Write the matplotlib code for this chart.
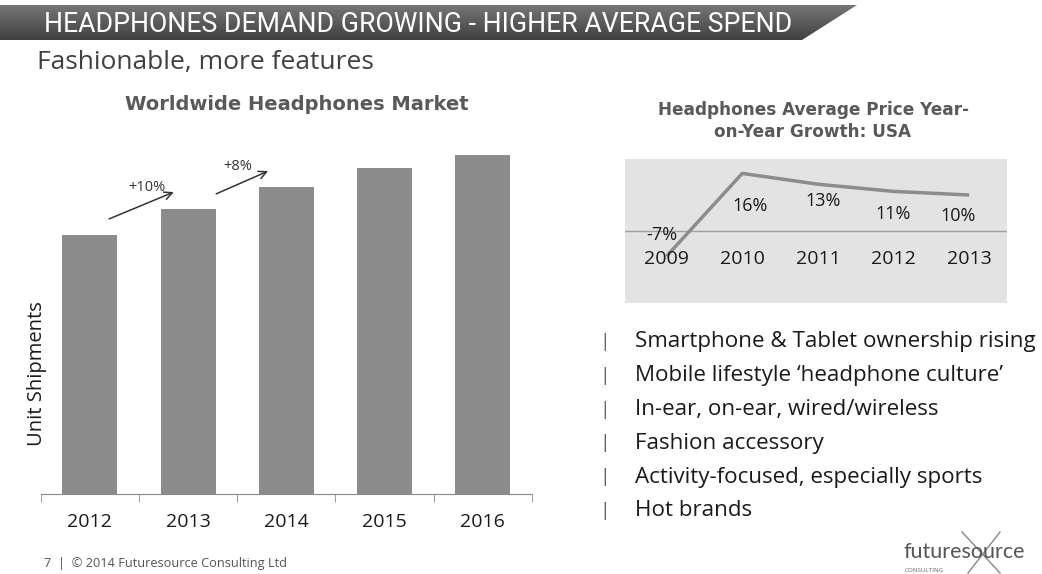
import numpy as np
import matplotlib
matplotlib.use("Agg")
import matplotlib.pyplot as plt
from matplotlib.patches import Polygon

# ---- data ----
market_years = ["2012", "2013", "2014", "2015", "2016"]
unit_shipments = [259, 285, 307, 326, 339]

price_years = ["2009", "2010", "2011", "2012", "2013"]
price_growth = [-7, 16, 13, 11, 10]

bullets = [
    "Smartphone & Tablet ownership rising",
    "Mobile lifestyle \u2018headphone culture\u2019",
    "In-ear, on-ear, wired/wireless",
    "Fashion accessory",
    "Activity-focused, especially sports",
    "Hot brands",
]

W, H = 1042, 574
plt.rcParams["font.family"] = ["Open Sans", "DejaVu Sans"]

fig = plt.figure(figsize=(W / 100, H / 100), dpi=100)
fig.patch.set_facecolor("white")

# full-figure canvas in pixel coordinates for slide decoration
bg = fig.add_axes([0, 0, 1, 1])
bg.set_xlim(0, W)
bg.set_ylim(H, 0)
bg.axis("off")

# header banner with vertical gradient and slanted right edge
banner = Polygon([(0, 5), (857, 5), (802, 40), (0, 40)], closed=True,
                 facecolor="none", edgecolor="none")
bg.add_patch(banner)
grad = np.linspace(0, 1, 64).reshape(-1, 1)
img = bg.imshow(grad, extent=(0, 860, 40, 5), cmap=matplotlib.colors.LinearSegmentedColormap.from_list(
    "hdr", ["#767676", "#404040"]), aspect="auto", zorder=1)
img.set_clip_path(banner)
bg.text(44, 24, "HEADPHONES DEMAND GROWING - HIGHER AVERAGE SPEND",
        color="white", fontsize=19.2, family=["Roboto", "DejaVu Sans"],
        va="center", ha="left", zorder=2)
bg.text(37, 62, "Fashionable, more features", color="#404040", fontsize=19,
        va="center", ha="left")

# chart titles
bg.text(297, 104, "Worldwide Headphones Market", color="#595959", fontsize=14,
        fontweight="bold", family=["DejaVu Sans"], ha="center", va="center")
bg.text(813, 110, "Headphones Average Price Year-", color="#595959", fontsize=12.2,
        fontweight="bold", family=["DejaVu Sans"], ha="center", va="center")
bg.text(813, 132, "on-Year Growth: USA", color="#595959", fontsize=12.2,
        fontweight="bold", family=["DejaVu Sans"], ha="center", va="center")

# bullet list
for i, line in enumerate(bullets):
    y = 342 + i * 33.8
    bg.text(605, y, "|", color="#666666", fontsize=14, ha="center", va="center")
    bg.text(635, y, line, color="#1a1a1a", fontsize=16.1, ha="left", va="center")

# footer
bg.text(44, 563, "7  |  \u00a9 2014 Futuresource Consulting Ltd", color="#555555",
        fontsize=9.2, ha="left", va="center")

# logo
bg.plot([962, 1000], [532, 573], color="#888888", lw=1.0, zorder=2)
bg.plot([1000, 968], [532, 573], color="#888888", lw=1.0, zorder=2)
bg.text(903, 558, "futuresource", color="#555555", fontsize=15.5, ha="left", va="baseline",
        family=["Lato"], zorder=3)
bg.text(905, 571, "CONSULTING", color="#666666", fontsize=4.5, ha="left", va="center")

# ---- bar chart ----
ax = fig.add_axes([40.7 / W, 80 / H, (532 - 40.7) / W, 345 / H])
x = np.arange(len(market_years))
ax.bar(x, unit_shipments, width=0.56, color="#8c8c8c", zorder=2)
ax.set_xlim(-0.5, len(market_years) - 0.5)
ax.set_ylim(0, 345)
ax.patch.set_alpha(0)
for s in ["top", "right", "left"]:
    ax.spines[s].set_visible(False)
ax.spines["bottom"].set_color("#8a8a8a")
ax.set_yticks([])
ax.set_xticks(x)
ax.set_xticklabels(market_years, fontsize=14, color="#1a1a1a")
ax.tick_params(axis="x", which="major", length=0, pad=14)
ax.set_xticks(np.arange(-0.5, len(market_years)), minor=True)
ax.tick_params(axis="x", which="minor", length=6, color="#8a8a8a")
ax.set_ylabel("Unit Shipments", fontsize=14.5, color="#1a1a1a")
ax.yaxis.set_label_coords(-0.008, 0.35)
ax.yaxis.label.set_va("center")

# growth arrows between consecutive years
arrow_spans = [(0.17, 0.88, 15, 18), (1.26, 1.84, 14, 17)]
label_pos = [(0.58, 22), (1.51, 21)]
for i, (x0, x1, dy0, dy1) in enumerate(arrow_spans):
    ax.annotate("", xy=(x1, unit_shipments[i + 1] + dy1),
                xytext=(x0, unit_shipments[i] + dy0),
                arrowprops=dict(arrowstyle="->", color="#333333", lw=1.1,
                                mutation_scale=14))
    g = round((unit_shipments[i + 1] / unit_shipments[i] - 1) * 100)
    lx, ldy = label_pos[i]
    ax.text(lx, unit_shipments[i + 1] + ldy, f"+{g}%", fontsize=10.5,
            color="#333333", ha="center", va="center")

# ---- line chart ----
ax2 = fig.add_axes([625 / W, (H - 303) / H, 382 / W, 144 / H])
ax2.set_facecolor("#e3e3e3")
for s in ax2.spines.values():
    s.set_visible(False)
ax2.set_xticks([])
ax2.set_yticks([])
ax2.set_xlim(-0.55, 4.5)
ax2.set_ylim(-20, 20)
ax2.axhline(0, color="#a0a0a0", lw=1.0, zorder=1)
xp = np.arange(len(price_years))
ax2.plot(xp, price_growth, color="#8c8c8c", lw=2.5, zorder=2, solid_capstyle="butt")
for i, yr in enumerate(price_years):
    ax2.text(xp[i], -7.9, yr, fontsize=14, color="#1a1a1a", ha="center", va="center")
# label offsets in pixels (right, up)
label_offsets = [(-5, 21), (8, -33), (5, -17), (0, -23), (-11, -21)]
for i, v in enumerate(price_growth):
    dx, dy = label_offsets[i]
    ax2.annotate(f"{v}%", xy=(xp[i], v), xytext=(dx * 0.72, dy * 0.72),
                 textcoords="offset points", fontsize=13, color="#1a1a1a",
                 ha="center", va="center")

fig.savefig("out.png", dpi=100, facecolor="white")
